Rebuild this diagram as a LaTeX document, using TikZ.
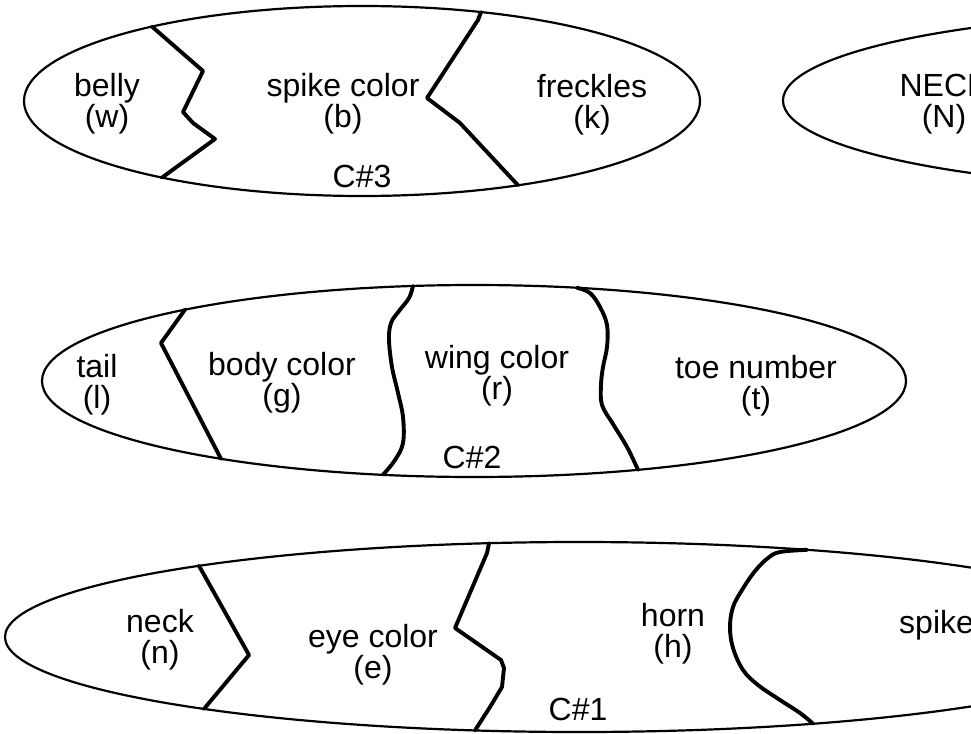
\documentclass[tikz,border=0pt]{standalone}
\usepackage{fontspec}
\setmainfont{Liberation Sans}
\begin{document}
\begin{tikzpicture}[x=1pt,y=-1pt,
  outline/.style={line width=2.2pt},
  divider/.style={line width=3.9pt, line join=round, line cap=round},
  lbl/.style={font=\fontsize{32}{31}\selectfont, align=center, inner sep=0pt}]
\useasboundingbox (0,0) rectangle (971,733);
\clip (0,0) rectangle (971,733);
% ---------- C#3 ----------
\draw[outline] (362,101) ellipse [x radius=338pt, y radius=95pt];
\draw[divider] (152,26.6) -- (203,71) -- (185,108) -- (183,112) -- (193,123) -- (215,139) -- (162,177.6);
\draw[divider] (481,12.1) -- (478,20) -- (427,98) -- (460,123) -- (518,185.3);
\node[lbl] (belly) at (107,104) {belly\\(w)};
\node[lbl] (spikecolor) at (343,104) {spike color\\(b)};
\node[lbl] (freckles) at (592,105) {freckles\\(k)};
\node[lbl] (c3) at (362,176) {C\#3};
% ---------- NECK ----------
\draw[outline] (1217,100.5) ellipse [x radius=434pt, y radius=88pt];
\node[lbl] (NECK) at (944,104) {NECK\\(N)};
% ---------- C#2 ----------
\draw[outline] (474,381) ellipse [x radius=432pt, y radius=96pt];
\draw[divider] (185,309.6) -- (161,343) -- (221,458.8);
\draw[divider] plot[smooth, tension=0.6] coordinates {(413,286) (409,298) (399,311) (391,323) (389,340) (392,367) (398,393) (403,417) (403,443) (395,460) (383,474.8)};
\draw[divider] plot[smooth, tension=0.6] coordinates {(577,287.8) (590,293) (600,307) (607,325) (607,347) (603,367) (601,385) (602,405) (613,424) (627,447) (638,469.8)};
\node[lbl] (tail) at (97,385) {tail\\(l)};
\node[lbl] (bodycolor) at (282,383) {body color\\(g)};
\node[lbl] (wingcolor) at (497,376) {wing color\\(r)};
\node[lbl] (toenumber) at (756,386) {toe number\\(t)};
\node[lbl] (c2) at (472,457) {C\#2};
% ---------- C#1 ----------
\draw[outline] (579,637) ellipse [x radius=574pt, y radius=95pt];
\draw[divider] (199,565.8) -- (249,655) -- (204,708.9);
\draw[divider] (489,543.2) -- (487,553) -- (455,628) -- (501,660) -- (504,668) -- (502,687) -- (490,707) -- (475,730.4);
\draw[divider] plot[smooth, tension=0.6] coordinates {(807,549.8) (780,552) (768,558) (755,571) (742,590) (733,607) (730,627) (733,648) (743,670) (758,685) (780,700) (800,713) (813,723.7)};
\node[lbl] (neck) at (160,640) {neck\\(n)};
\node[lbl] (eyecolor) at (373,655) {eye color\\(e)};
\node[lbl] (horn) at (673,634) {horn\\(h)};
\node[lbl, anchor=base west] (spike) at (899,633) {spike};
\node[lbl] (c1) at (578,709) {C\#1};
\end{tikzpicture}
\end{document}
